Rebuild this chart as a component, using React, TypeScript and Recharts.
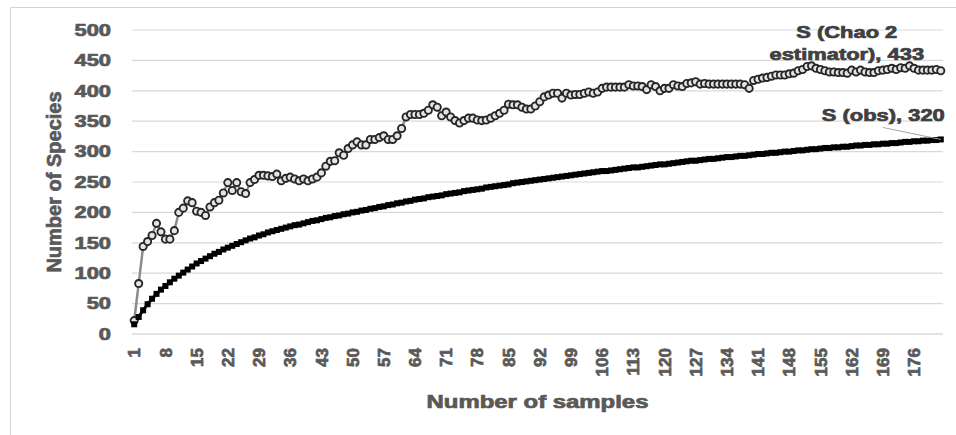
import { LineChart, Line, XAxis, YAxis, CartesianGrid, LabelList } from "recharts";

const chao2 = [
  22, 83, 144, 152, 162, 182, 168, 156, 156, 170,
  200, 207, 219, 216, 202, 200, 195, 209, 216, 220,
  232, 249, 236, 249, 234, 231, 249, 254, 261, 261,
  260, 259, 263, 252, 256, 258, 255, 252, 255, 252,
  255, 258, 265, 276, 284, 285, 298, 294, 305, 311,
  316, 311, 311, 320, 320, 323, 326, 320, 320, 326,
  338, 357, 361, 361, 361, 363, 368, 377, 373, 359,
  365, 357, 351, 347, 351, 355, 355, 352, 351, 352,
  355, 359, 363, 368, 378, 377, 377, 373, 370, 370,
  375, 382, 390, 393, 396, 396, 388, 396, 393, 394,
  394, 396, 398, 396, 398, 404, 406, 406, 406, 406,
  406, 410, 408, 408, 407, 402, 410, 407, 400, 404,
  404, 410, 408, 407, 412, 413, 415, 411, 412, 411,
  411, 411, 411, 411, 411, 411, 411, 410, 404, 417,
  419, 421, 422, 424, 426, 426, 426, 428, 429, 433,
  435, 440, 441, 437, 435, 433, 431, 431, 430, 430,
  429, 434, 431, 434, 431, 430, 430, 433, 434, 435,
  437, 435, 438, 437, 441, 437, 434, 434, 434, 434,
  435, 433,
];

const sObs = [
  16, 28, 39, 49, 58, 66, 73, 79, 85, 91,
  96, 101, 106, 111, 116, 120, 124, 128, 132, 135,
  139, 142, 145, 148, 151, 154, 157, 159, 162, 164,
  167, 169, 171, 173, 175, 177, 179, 180, 182, 184,
  186, 187, 189, 191, 192, 194, 195, 197, 198, 200,
  201, 203, 204, 206, 207, 209, 210, 212, 213, 215,
  216, 218, 219, 221, 222, 223, 225, 226, 227, 228,
  230, 231, 232, 233, 235, 236, 237, 238, 239, 241,
  242, 243, 244, 245, 246, 248, 249, 250, 251, 252,
  253, 254, 255, 256, 257, 258, 259, 260, 261, 262,
  263, 264, 265, 266, 267, 268, 268, 269, 270, 271,
  272, 273, 274, 274, 275, 276, 277, 278, 279, 279,
  280, 281, 282, 283, 284, 285, 285, 286, 287, 288,
  288, 289, 290, 291, 291, 292, 293, 293, 294, 295,
  296, 296, 297, 298, 298, 299, 300, 300, 301, 302,
  302, 303, 304, 304, 305, 306, 306, 307, 307, 308,
  308, 309, 310, 310, 311, 311, 312, 312, 313, 313,
  314, 314, 315, 316, 316, 317, 317, 318, 318, 319,
  319, 320,
];

const xTicks = [1, 8, 15, 22, 29, 36, 43, 50, 57, 64, 71, 78, 85, 92, 99, 106, 113, 120, 127, 134, 141, 148, 155, 162, 169, 176];
const yTicks = [0, 50, 100, 150, 200, 250, 300, 350, 400, 450, 500];

const data = chao2.map((c, i) => ({ n: i + 1, chao2: c, obs: sObs[i] }));
const last = data.length - 1;

const FONT = "'Liberation Sans', Arial, sans-serif";
const AXIS_TEXT = "#595959";
const LABEL_TEXT = "#404040";

// heavier look of the original bold text
const heavy = (c: string) => ({ fill: c, stroke: c, strokeWidth: 0.7, fontWeight: "bold" as const, fontFamily: FONT });

const YTick = (props: any) => {
  const { x, y, payload } = props;
  return (
    <g transform={`translate(${x},${y})`}>
      <text transform="scale(1.37,1)" textAnchor="end" dy="0.36em" fontSize={16} {...heavy(AXIS_TEXT)}>
        {payload.value}
      </text>
    </g>
  );
};

const XTick = (props: any) => {
  const { x, y, payload } = props;
  return (
    <text transform={`translate(${x},${y}) rotate(-90)`} textAnchor="end" dy="0.36em" fontSize={17} {...heavy(AXIS_TEXT)}>
      {payload.value}
    </text>
  );
};

const ChaoLabel = (props: any) => {
  const { x, y, index } = props;
  if (index !== last) return null;
  return (
    <g transform={`translate(${x - 94},${y})`} fontSize={16} {...heavy(LABEL_TEXT)}>
      <text transform="translate(0,-33) scale(1.37,1)" textAnchor="middle">S (Chao 2</text>
      <text transform="translate(0,-11) scale(1.37,1)" textAnchor="middle">estimator), 433</text>
    </g>
  );
};

const ObsLabel = (props: any) => {
  const { x, y, index } = props;
  if (index !== last) return null;
  return (
    <g>
      <line x1={x - 58} y1={y - 12} x2={x} y2={y} stroke="#a6a6a6" strokeWidth={1} />
      <text transform={`translate(${x + 4},${y - 18}) scale(1.37,1)`} textAnchor="end" fontSize={16} {...heavy(LABEL_TEXT)}>
        S (obs), 320
      </text>
    </g>
  );
};

const SquareDot = (props: any) => {
  const { cx, cy, index } = props;
  return <rect key={`sq${index}`} x={cx - 3} y={cy - 3} width={6} height={6} fill="#000" />;
};

export default function App() {
  return (
    <div style={{ position: "absolute", left: 0, top: 0, width: 956, height: 435, background: "#fff", overflow: "hidden" }}>
      <div
        style={{
          position: "absolute",
          left: 10,
          top: 7,
          width: 960,
          height: 450,
          borderLeft: "1.5px solid #d4d4d4",
          borderTop: "1.5px solid #d4d4d4",
        }}
      />
      <div style={{ position: "absolute", left: 0, top: 0 }}>
        <LineChart width={956} height={435} data={data} margin={{ top: 30, right: 13, bottom: 41, left: 0 }}>
          <CartesianGrid vertical={false} stroke="#d9d9d9" strokeWidth={1.2} />
          <XAxis
            dataKey="n"
            type="number"
            domain={[0.5, 182.5]}
            ticks={xTicks}
            interval={0}
            height={60}
            axisLine={{ stroke: "#d9d9d9", strokeWidth: 1.2 }}
            tickLine={false}
            tickSize={0}
            tickMargin={14}
            tick={<XTick />}
            label={{
              value: "Number of samples",
              content: (p: any) => {
                const vb = p.viewBox;
                return (
                  <text
                    transform={`translate(${vb.x + vb.width / 2},408) scale(1.33,1)`}
                    textAnchor="middle"
                    fontSize={18}
                    {...heavy(AXIS_TEXT)}
                  >
                    Number of samples
                  </text>
                );
              },
            }}
          />
          <YAxis
            type="number"
            domain={[0, 500]}
            ticks={yTicks}
            interval={0}
            width={132}
            axisLine={false}
            tickLine={false}
            tickSize={0}
            tickMargin={21}
            tick={<YTick />}
            label={{
              value: "Number of Species",
              content: (p: any) => {
                const vb = p.viewBox;
                return (
                  <text
                    transform={`translate(61,${vb.y + vb.height / 2}) rotate(-90)`}
                    textAnchor="middle"
                    fontSize={20}
                    {...heavy(AXIS_TEXT)}
                  >
                    Number of Species
                  </text>
                );
              },
            }}
          />
          <Line
            dataKey="chao2"
            stroke="#8c8c8c"
            strokeWidth={2.5}
            dot={{ r: 3.6, stroke: "#262626", strokeWidth: 1.9, fill: "#e4e4e4" }}
            activeDot={false}
            isAnimationActive={false}
          >
            <LabelList dataKey="chao2" content={<ChaoLabel />} />
          </Line>
          <Line
            dataKey="obs"
            stroke="#000"
            strokeWidth={3}
            dot={<SquareDot />}
            activeDot={false}
            isAnimationActive={false}
          >
            <LabelList dataKey="obs" content={<ObsLabel />} />
          </Line>
        </LineChart>
      </div>
    </div>
  );
}
